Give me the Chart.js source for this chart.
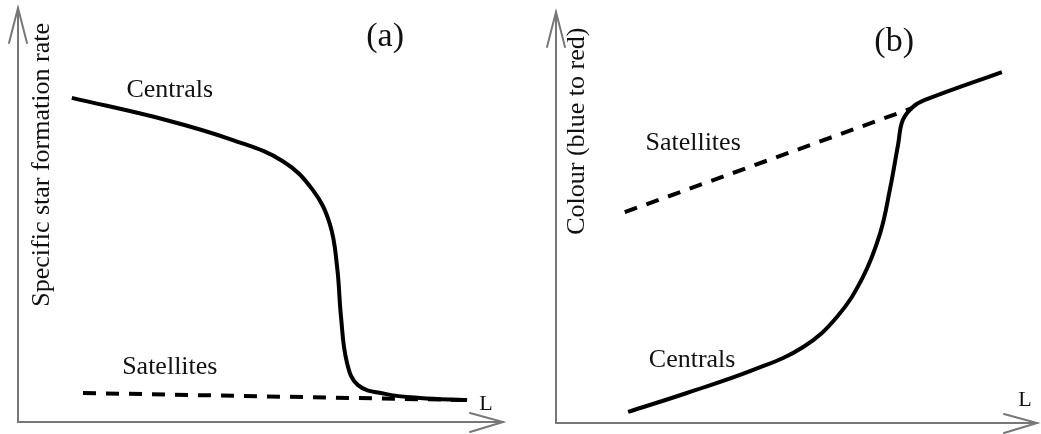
<!DOCTYPE html>
<html>
<head>
<meta charset="utf-8">
<script src="https://cdn.jsdelivr.net/npm/chart.js@4.4.1/dist/chart.umd.min.js"></script>
<style>
  html, body { margin: 0; padding: 0; background: #fff; }
  #wrap { position: relative; width: 1041px; height: 434px; }
  .panel { position: absolute; top: 0; height: 434px; }
  #panelA { left: 0; width: 520px; }
  #panelB { left: 520px; width: 521px; }
</style>
</head>
<body>
<div id="wrap">
  <div class="panel" id="panelA"><canvas id="chartA"></canvas></div>
  <div class="panel" id="panelB"><canvas id="chartB"></canvas></div>
</div>
<script>
// schematic units: both axes run 0..100, no ticks

// (a) specific SFR against L
const aCentralsX = [11.1, 30.7, 44.3, 54.6, 60.8, 64.3, 65.8, 66.6, 67.8, 70.1, 75.7, 82.9, 92.6];
const aCentralsY = [78.3, 72.9, 68.1, 63.0, 56.0, 47.8, 37.4, 25.4, 14.5, 8.9, 6.8, 5.8, 5.3];
const aSatellitesX = [13.4, 92.6];
const aSatellitesY = [7.0, 5.3];

// (b) colour against L
const bCentralsX = [15.0, 27.2, 41.0, 51.4, 58.4, 63.8, 67.4, 69.4, 71.1, 72.1, 74.2, 76.7, 92.7];
const bCentralsY = [2.7, 7.3, 12.9, 18.5, 25.8, 35.5, 46.2, 56.7, 67.6, 73.7, 76.9, 78.6, 85.4];
const bSatellitesX = [14.3, 74.0];
const bSatellitesY = [51.3, 76.6];

const SERIF = '"Liberation Serif", "Times New Roman", serif';

function toPoints(xs, ys) {
    return xs.map((x, i) => ({ x: x, y: ys[i] }));
}

// axes with open arrowheads + annotations
const sketchPlugin = {
    id: 'sketch',
    beforeDatasetsDraw(chart) {
        const ctx = chart.ctx;
        const { left, right, top, bottom } = chart.chartArea;
        ctx.save();
        ctx.strokeStyle = '#777';
        ctx.lineWidth = 2;
        ctx.lineCap = 'round';
        ctx.beginPath();
        ctx.moveTo(left, top);
        ctx.lineTo(left, bottom);
        ctx.lineTo(right, bottom);
        ctx.stroke();
        ctx.beginPath();
        ctx.moveTo(left - 9, top + 35);
        ctx.lineTo(left, top);
        ctx.lineTo(left + 9, top + 35);
        ctx.moveTo(right - 33, bottom - 9);
        ctx.lineTo(right, bottom);
        ctx.lineTo(right - 33, bottom + 10);
        ctx.stroke();
        ctx.restore();
    },
    afterDatasetsDraw(chart, args, opts) {
        const ctx = chart.ctx;
        const xs = chart.scales.x, ys = chart.scales.y;
        ctx.save();
        ctx.fillStyle = '#111';
        ctx.textAlign = 'center';
        ctx.textBaseline = 'middle';
        (opts.labels || []).forEach(l => {
            ctx.font = l.size + 'px ' + SERIF;
            ctx.fillText(l.text, xs.getPixelForValue(l.x), ys.getPixelForValue(l.y));
        });
        if (opts.title) {
            const t = opts.title;
            ctx.translate(xs.getPixelForValue(t.x), ys.getPixelForValue(t.y));
            ctx.rotate(-Math.PI / 2);
            ctx.font = t.size + 'px ' + SERIF;
            ctx.fillText(t.text, 0, 0);
        }
        ctx.restore();
    }
};

function makeChart(id, padding, centrals, satellites, labels, title) {
    return new Chart(document.getElementById(id), {
        type: 'scatter',
        data: {
            datasets: [{
                label: 'Centrals',
                data: centrals,
                showLine: true,
                borderColor: '#000',
                borderWidth: 4,
                pointRadius: 0,
                tension: 0.4,
                borderCapStyle: 'butt'
            }, {
                label: 'Satellites',
                data: satellites,
                showLine: true,
                borderColor: '#000',
                borderWidth: 4,
                borderDash: [13, 10],
                pointRadius: 0
            }]
        },
        options: {
            responsive: true,
            maintainAspectRatio: false,
            animation: false,
            layout: { padding: padding },
            scales: {
                x: { type: 'linear', display: false, min: 0, max: 100 },
                y: { type: 'linear', display: false, min: 0, max: 100 }
            },
            plugins: {
                legend: { display: false },
                tooltip: { enabled: false },
                sketch: { labels: labels, title: title }
            }
        },
        plugins: [sketchPlugin]
    });
}

makeChart('chartA', { left: 18, right: 17, top: 8, bottom: 12 },
    toPoints(aCentralsX, aCentralsY),
    toPoints(aSatellitesX, aSatellitesY),
    [
        { text: 'Centrals', x: 31.3, y: 80.2, size: 26 },
        { text: 'Satellites', x: 31.3, y: 13.3, size: 26 },
        { text: '(a)', x: 75.7, y: 93.0, size: 34 },
        { text: 'L', x: 96.5, y: 4.3, size: 22 }
    ],
    { text: 'Specific star formation rate', x: 4.9, y: 62.1, size: 26 });

makeChart('chartB', { left: 36, right: 4, top: 12, bottom: 11 },
    toPoints(bCentralsX, bCentralsY),
    toPoints(bSatellitesX, bSatellitesY),
    [
        { text: 'Satellites', x: 28.5, y: 68.1, size: 26 },
        { text: 'Centrals', x: 28.3, y: 15.3, size: 26 },
        { text: '(b)', x: 70.3, y: 92.7, size: 34 },
        { text: 'L', x: 97.5, y: 5.6, size: 22 }
    ],
    { text: 'Colour (blue to red)', x: 4.4, y: 71.0, size: 26 });
</script>
</body>
</html>
